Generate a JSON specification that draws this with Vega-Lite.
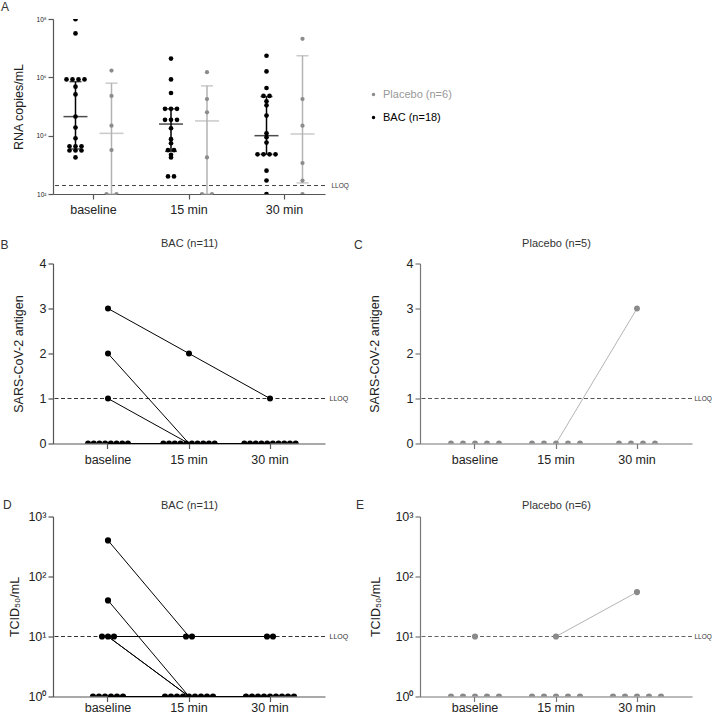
{
  "$schema": "https://vega.github.io/schema/vega-lite/v6.json",
  "background": "white",
  "padding": {"left": 0, "top": 1, "right": 0, "bottom": 0},
  "config": {
    "font": "Liberation Sans",
    "view": {"stroke": null},
    "axis": {"grid": false, "domainColor": "#555555", "tickColor": "#555555", "domainWidth": 1.2, "tickWidth": 1.2, "tickSize": 5, "labelColor": "#222222", "titleColor": "#222222", "labelFontSize": 12.5, "titleFontSize": 12.5, "titleFontWeight": "normal", "labelFont": "Liberation Sans", "titleFont": "Liberation Sans"},
    "title": {"fontSize": 12, "fontWeight": "normal", "color": "#333333", "anchor": "start", "frame": "bounds", "font": "Liberation Sans"},
    "legend": {"labelFont": "Liberation Sans"}
  },
  "datasets": {
    "rna": [
      {"time": "baseline", "group": "BAC", "copies": 98000000},
      {"time": "baseline", "group": "BAC", "copies": 32000000},
      {"time": "baseline", "group": "BAC", "copies": 850000},
      {"time": "baseline", "group": "BAC", "copies": 850000},
      {"time": "baseline", "group": "BAC", "copies": 850000},
      {"time": "baseline", "group": "BAC", "copies": 850000},
      {"time": "baseline", "group": "BAC", "copies": 480000},
      {"time": "baseline", "group": "BAC", "copies": 260000},
      {"time": "baseline", "group": "BAC", "copies": 45000},
      {"time": "baseline", "group": "BAC", "copies": 19000},
      {"time": "baseline", "group": "BAC", "copies": 8100},
      {"time": "baseline", "group": "BAC", "copies": 4300},
      {"time": "baseline", "group": "BAC", "copies": 4300},
      {"time": "baseline", "group": "BAC", "copies": 4300},
      {"time": "baseline", "group": "BAC", "copies": 3100},
      {"time": "baseline", "group": "BAC", "copies": 3100},
      {"time": "baseline", "group": "BAC", "copies": 3100},
      {"time": "baseline", "group": "BAC", "copies": 1800},
      {"time": "baseline", "group": "Placebo", "copies": 1700000},
      {"time": "baseline", "group": "Placebo", "copies": 230000},
      {"time": "baseline", "group": "Placebo", "copies": 22000},
      {"time": "baseline", "group": "Placebo", "copies": 3200},
      {"time": "baseline", "group": "Placebo", "copies": 100},
      {"time": "baseline", "group": "Placebo", "copies": 100},
      {"time": "15 min", "group": "BAC", "copies": 4400000},
      {"time": "15 min", "group": "BAC", "copies": 850000},
      {"time": "15 min", "group": "BAC", "copies": 290000},
      {"time": "15 min", "group": "BAC", "copies": 83000},
      {"time": "15 min", "group": "BAC", "copies": 83000},
      {"time": "15 min", "group": "BAC", "copies": 83000},
      {"time": "15 min", "group": "BAC", "copies": 35000},
      {"time": "15 min", "group": "BAC", "copies": 35000},
      {"time": "15 min", "group": "BAC", "copies": 35000},
      {"time": "15 min", "group": "BAC", "copies": 18000},
      {"time": "15 min", "group": "BAC", "copies": 7600},
      {"time": "15 min", "group": "BAC", "copies": 5500},
      {"time": "15 min", "group": "BAC", "copies": 3200},
      {"time": "15 min", "group": "BAC", "copies": 3200},
      {"time": "15 min", "group": "BAC", "copies": 2200},
      {"time": "15 min", "group": "BAC", "copies": 1800},
      {"time": "15 min", "group": "BAC", "copies": 400},
      {"time": "15 min", "group": "BAC", "copies": 400},
      {"time": "15 min", "group": "Placebo", "copies": 1500000},
      {"time": "15 min", "group": "Placebo", "copies": 180000},
      {"time": "15 min", "group": "Placebo", "copies": 63000},
      {"time": "15 min", "group": "Placebo", "copies": 1800},
      {"time": "15 min", "group": "Placebo", "copies": 100},
      {"time": "15 min", "group": "Placebo", "copies": 100},
      {"time": "30 min", "group": "BAC", "copies": 5500000},
      {"time": "30 min", "group": "BAC", "copies": 1600000},
      {"time": "30 min", "group": "BAC", "copies": 430000},
      {"time": "30 min", "group": "BAC", "copies": 230000},
      {"time": "30 min", "group": "BAC", "copies": 230000},
      {"time": "30 min", "group": "BAC", "copies": 150000},
      {"time": "30 min", "group": "BAC", "copies": 110000},
      {"time": "30 min", "group": "BAC", "copies": 49000},
      {"time": "30 min", "group": "BAC", "copies": 12000},
      {"time": "30 min", "group": "BAC", "copies": 8900},
      {"time": "30 min", "group": "BAC", "copies": 5800},
      {"time": "30 min", "group": "BAC", "copies": 2300},
      {"time": "30 min", "group": "BAC", "copies": 2300},
      {"time": "30 min", "group": "BAC", "copies": 2300},
      {"time": "30 min", "group": "BAC", "copies": 2300},
      {"time": "30 min", "group": "BAC", "copies": 630},
      {"time": "30 min", "group": "BAC", "copies": 290},
      {"time": "30 min", "group": "BAC", "copies": 100},
      {"time": "30 min", "group": "Placebo", "copies": 21000000},
      {"time": "30 min", "group": "Placebo", "copies": 180000},
      {"time": "30 min", "group": "Placebo", "copies": 22000},
      {"time": "30 min", "group": "Placebo", "copies": 1150},
      {"time": "30 min", "group": "Placebo", "copies": 290},
      {"time": "30 min", "group": "Placebo", "copies": 100}
    ],
    "rna_summary": [
      {"time": "baseline", "group": "BAC", "median": 45000, "lo": 3500, "hi": 710000},
      {"time": "15 min", "group": "BAC", "median": 25000, "lo": 2900, "hi": 83000},
      {"time": "30 min", "group": "BAC", "median": 10000, "lo": 2300, "hi": 220000},
      {"time": "baseline", "group": "Placebo", "median": 12000, "lo": 100, "hi": 630000},
      {"time": "15 min", "group": "Placebo", "median": 32000, "lo": 100, "hi": 510000},
      {"time": "30 min", "group": "Placebo", "median": 11500, "lo": 240, "hi": 5500000}
    ],
    "lloq": [
      {"assay": "rna", "value": 195},
      {"assay": "antigen", "value": 1},
      {"assay": "tcid", "value": 10}
    ],
    "antigen": [
      {"arm": "BAC", "subject": "b1", "time": "baseline", "value": 3},
      {"arm": "BAC", "subject": "b1", "time": "15 min", "value": 2},
      {"arm": "BAC", "subject": "b1", "time": "30 min", "value": 1},
      {"arm": "BAC", "subject": "b2", "time": "baseline", "value": 2},
      {"arm": "BAC", "subject": "b2", "time": "15 min", "value": 0},
      {"arm": "BAC", "subject": "b2", "time": "30 min", "value": 0},
      {"arm": "BAC", "subject": "b3", "time": "baseline", "value": 1},
      {"arm": "BAC", "subject": "b3", "time": "15 min", "value": 0},
      {"arm": "BAC", "subject": "b3", "time": "30 min", "value": 0},
      {"arm": "BAC", "subject": "b4", "time": "baseline", "value": 0},
      {"arm": "BAC", "subject": "b4", "time": "15 min", "value": 0},
      {"arm": "BAC", "subject": "b4", "time": "30 min", "value": 0},
      {"arm": "BAC", "subject": "b5", "time": "baseline", "value": 0},
      {"arm": "BAC", "subject": "b5", "time": "15 min", "value": 0},
      {"arm": "BAC", "subject": "b5", "time": "30 min", "value": 0},
      {"arm": "BAC", "subject": "b6", "time": "baseline", "value": 0},
      {"arm": "BAC", "subject": "b6", "time": "15 min", "value": 0},
      {"arm": "BAC", "subject": "b6", "time": "30 min", "value": 0},
      {"arm": "BAC", "subject": "b7", "time": "baseline", "value": 0},
      {"arm": "BAC", "subject": "b7", "time": "15 min", "value": 0},
      {"arm": "BAC", "subject": "b7", "time": "30 min", "value": 0},
      {"arm": "BAC", "subject": "b8", "time": "baseline", "value": 0},
      {"arm": "BAC", "subject": "b8", "time": "15 min", "value": 0},
      {"arm": "BAC", "subject": "b8", "time": "30 min", "value": 0},
      {"arm": "BAC", "subject": "b9", "time": "baseline", "value": 0},
      {"arm": "BAC", "subject": "b9", "time": "15 min", "value": 0},
      {"arm": "BAC", "subject": "b9", "time": "30 min", "value": 0},
      {"arm": "BAC", "subject": "b10", "time": "baseline", "value": 0},
      {"arm": "BAC", "subject": "b10", "time": "15 min", "value": 0},
      {"arm": "BAC", "subject": "b10", "time": "30 min", "value": 0},
      {"arm": "BAC", "subject": "b11", "time": "baseline", "value": 0},
      {"arm": "BAC", "subject": "b11", "time": "15 min", "value": 0},
      {"arm": "BAC", "subject": "b11", "time": "30 min", "value": 0},
      {"arm": "Placebo", "subject": "c1", "time": "baseline", "value": 0},
      {"arm": "Placebo", "subject": "c1", "time": "15 min", "value": 0},
      {"arm": "Placebo", "subject": "c1", "time": "30 min", "value": 3},
      {"arm": "Placebo", "subject": "c2", "time": "baseline", "value": 0},
      {"arm": "Placebo", "subject": "c2", "time": "15 min", "value": 0},
      {"arm": "Placebo", "subject": "c2", "time": "30 min", "value": 0},
      {"arm": "Placebo", "subject": "c3", "time": "baseline", "value": 0},
      {"arm": "Placebo", "subject": "c3", "time": "15 min", "value": 0},
      {"arm": "Placebo", "subject": "c3", "time": "30 min", "value": 0},
      {"arm": "Placebo", "subject": "c4", "time": "baseline", "value": 0},
      {"arm": "Placebo", "subject": "c4", "time": "15 min", "value": 0},
      {"arm": "Placebo", "subject": "c4", "time": "30 min", "value": 0},
      {"arm": "Placebo", "subject": "c5", "time": "baseline", "value": 0},
      {"arm": "Placebo", "subject": "c5", "time": "15 min", "value": 0},
      {"arm": "Placebo", "subject": "c5", "time": "30 min", "value": 0}
    ],
    "tcid": [
      {"arm": "BAC", "subject": "d1", "time": "baseline", "titer": 400},
      {"arm": "BAC", "subject": "d1", "time": "15 min", "titer": 10},
      {"arm": "BAC", "subject": "d1", "time": "30 min", "titer": 10},
      {"arm": "BAC", "subject": "d2", "time": "baseline", "titer": 40},
      {"arm": "BAC", "subject": "d2", "time": "15 min", "titer": 1},
      {"arm": "BAC", "subject": "d2", "time": "30 min", "titer": 1},
      {"arm": "BAC", "subject": "d3", "time": "baseline", "titer": 10},
      {"arm": "BAC", "subject": "d3", "time": "15 min", "titer": 1},
      {"arm": "BAC", "subject": "d3", "time": "30 min", "titer": 1},
      {"arm": "BAC", "subject": "d4", "time": "baseline", "titer": 10},
      {"arm": "BAC", "subject": "d4", "time": "15 min", "titer": 1},
      {"arm": "BAC", "subject": "d4", "time": "30 min", "titer": 1},
      {"arm": "BAC", "subject": "d5", "time": "baseline", "titer": 10},
      {"arm": "BAC", "subject": "d5", "time": "15 min", "titer": 10},
      {"arm": "BAC", "subject": "d5", "time": "30 min", "titer": 10},
      {"arm": "BAC", "subject": "d6", "time": "baseline", "titer": 1},
      {"arm": "BAC", "subject": "d6", "time": "15 min", "titer": 1},
      {"arm": "BAC", "subject": "d6", "time": "30 min", "titer": 1},
      {"arm": "BAC", "subject": "d7", "time": "baseline", "titer": 1},
      {"arm": "BAC", "subject": "d7", "time": "15 min", "titer": 1},
      {"arm": "BAC", "subject": "d7", "time": "30 min", "titer": 1},
      {"arm": "BAC", "subject": "d8", "time": "baseline", "titer": 1},
      {"arm": "BAC", "subject": "d8", "time": "15 min", "titer": 1},
      {"arm": "BAC", "subject": "d8", "time": "30 min", "titer": 1},
      {"arm": "BAC", "subject": "d9", "time": "baseline", "titer": 1},
      {"arm": "BAC", "subject": "d9", "time": "15 min", "titer": 1},
      {"arm": "BAC", "subject": "d9", "time": "30 min", "titer": 1},
      {"arm": "BAC", "subject": "d10", "time": "baseline", "titer": 1},
      {"arm": "BAC", "subject": "d10", "time": "15 min", "titer": 1},
      {"arm": "BAC", "subject": "d10", "time": "30 min", "titer": 1},
      {"arm": "BAC", "subject": "d11", "time": "baseline", "titer": 1},
      {"arm": "BAC", "subject": "d11", "time": "15 min", "titer": 1},
      {"arm": "BAC", "subject": "d11", "time": "30 min", "titer": 1},
      {"arm": "Placebo", "subject": "ea", "time": "15 min", "titer": 10},
      {"arm": "Placebo", "subject": "ea", "time": "30 min", "titer": 55},
      {"arm": "Placebo", "subject": "eb", "time": "baseline", "titer": 10},
      {"arm": "Placebo", "subject": "e1", "time": "baseline", "titer": 1},
      {"arm": "Placebo", "subject": "e1", "time": "15 min", "titer": 1},
      {"arm": "Placebo", "subject": "e1", "time": "30 min", "titer": 1},
      {"arm": "Placebo", "subject": "e2", "time": "baseline", "titer": 1},
      {"arm": "Placebo", "subject": "e2", "time": "15 min", "titer": 1},
      {"arm": "Placebo", "subject": "e2", "time": "30 min", "titer": 1},
      {"arm": "Placebo", "subject": "e3", "time": "baseline", "titer": 1},
      {"arm": "Placebo", "subject": "e3", "time": "15 min", "titer": 1},
      {"arm": "Placebo", "subject": "e3", "time": "30 min", "titer": 1},
      {"arm": "Placebo", "subject": "e4", "time": "baseline", "titer": 1},
      {"arm": "Placebo", "subject": "e4", "time": "15 min", "titer": 1},
      {"arm": "Placebo", "subject": "e4", "time": "30 min", "titer": 1},
      {"arm": "Placebo", "subject": "e5", "time": "baseline", "titer": 1},
      {"arm": "Placebo", "subject": "e5", "time": "15 min", "titer": 1},
      {"arm": "Placebo", "subject": "e5", "time": "30 min", "titer": 1}
    ]
  },
  "spacing": 21.5,
  "resolve": {"scale": {"xOffset": "independent", "x": "independent", "y": "independent"}},
  "vconcat": [
    {
      "width": 272,
      "height": 175,
      "title": {"text": "A", "dx": -12, "dy": 2},
      "layer": [
        {
          "data": {"name": "lloq"},
          "transform": [{"filter": "datum.assay == 'rna'"}],
          "mark": {"type": "rule", "strokeDash": [4, 3], "color": "#444444", "strokeWidth": 1},
          "encoding": {
            "y": {"field": "value", "type": "quantitative", "scale": {"type": "log", "domain": [100, 100000000], "nice": false}, "axis": {"orient": "right", "values": [195], "labelExpr": "'LLOQ'", "domain": false, "ticks": false, "title": null, "labelFontSize": 6.5, "labelPadding": 6, "labelColor": "#333333"}}
          }
        },
        {
          "layer": [
            {
              "data": {"name": "rna"},
              "transform": [
                {"filter": "datum.group == 'BAC'"},
                {"window": [{"op": "count", "as": "one"}], "frame": [0, 0], "ignorePeers": true},
                {"stack": "one", "groupby": ["time", "copies"], "offset": "center", "as": ["s0", "s1"]}
              ],
              "mark": {"type": "point", "filled": true, "opacity": 1, "size": 22, "clip": true},
              "encoding": {
                "x": {"field": "time", "type": "ordinal", "scale": {"type": "band", "domain": ["baseline", "15 min", "30 min"], "paddingInner": 0.152, "paddingOuter": 0}, "axis": {"title": null, "labelAngle": 0, "labelPadding": 4, "orient": "bottom"}},
                "xOffset": {"field": "s0", "type": "quantitative", "scale": {"domain": [-2.25, 11.25]}},
                "y": {"field": "copies", "type": "quantitative", "scale": {"type": "log", "domain": [100, 100000000], "nice": false}, "axis": {"values": [100, 10000, 1000000, 100000000], "labelFontSize": 6.5, "labelPadding": 2, "labelExpr": "'10' + ['⁰','¹','²','³','⁴','⁵','⁶','⁷','⁸'][round(log(datum.value)/LN10)]", "title": "RNA copies/mL", "titlePadding": 10}},
                "color": {"field": "group", "type": "nominal", "scale": {"domain": ["Placebo", "BAC"], "range": ["#8c8c8c", "#000000"]}, "legend": {"orient": "none", "legendX": 315, "legendY": 70, "title": null, "symbolType": "circle", "symbolSize": 12, "labelFontSize": 11, "labelOffset": 4, "rowPadding": 11, "padding": 0, "labelExpr": "datum.value == 'BAC' ? 'BAC (n=18)' : 'Placebo (n=6)'", "labelColor": {"expr": "datum.value == 'BAC' ? '#000000' : '#999999'"}}}
              }
            },
            {
              "data": {"name": "rna_summary"},
              "transform": [{"filter": "datum.group == 'BAC'"}],
              "mark": {"type": "rule", "color": "#000000", "strokeWidth": 1.5},
              "encoding": {
                "x": {"field": "time", "type": "ordinal"},
                "xOffset": {"datum": 1.5, "type": "quantitative"},
                "y": {"field": "lo", "type": "quantitative"},
                "y2": {"field": "hi"}
              }
            },
            {
              "data": {"name": "rna_summary"},
              "transform": [{"filter": "datum.group == 'BAC'"}],
              "mark": {"type": "tick", "color": "#000000", "size": 24, "thickness": 1.5},
              "encoding": {
                "x": {"field": "time", "type": "ordinal"},
                "xOffset": {"datum": 1.5, "type": "quantitative"},
                "y": {"field": "median", "type": "quantitative"}
              }
            },
            {
              "data": {"name": "rna_summary"},
              "transform": [{"filter": "datum.group == 'BAC'"}],
              "mark": {"type": "tick", "color": "#000000", "size": 12, "thickness": 1.5},
              "encoding": {
                "x": {"field": "time", "type": "ordinal"},
                "xOffset": {"datum": 1.5, "type": "quantitative"},
                "y": {"field": "lo", "type": "quantitative"}
              }
            },
            {
              "data": {"name": "rna_summary"},
              "transform": [{"filter": "datum.group == 'BAC'"}],
              "mark": {"type": "tick", "color": "#000000", "size": 12, "thickness": 1.5},
              "encoding": {
                "x": {"field": "time", "type": "ordinal"},
                "xOffset": {"datum": 1.5, "type": "quantitative"},
                "y": {"field": "hi", "type": "quantitative"}
              }
            }
          ]
        },
        {
          "layer": [
            {
              "data": {"name": "rna_summary"},
              "transform": [{"filter": "datum.group == 'Placebo'"}],
              "mark": {"type": "rule", "color": "#b3b3b3", "strokeWidth": 1.5},
              "encoding": {
                "x": {"field": "time", "type": "ordinal"},
                "xOffset": {"datum": 0.5, "type": "quantitative", "scale": {"domain": [-5.35, 2.75]}},
                "y": {"field": "lo", "type": "quantitative", "axis": null},
                "y2": {"field": "hi"}
              }
            },
            {
              "data": {"name": "rna_summary"},
              "transform": [{"filter": "datum.group == 'Placebo'"}],
              "mark": {"type": "tick", "color": "#b3b3b3", "size": 24, "thickness": 1.5},
              "encoding": {
                "x": {"field": "time", "type": "ordinal"},
                "xOffset": {"datum": 0.5, "type": "quantitative"},
                "y": {"field": "median", "type": "quantitative", "axis": null}
              }
            },
            {
              "data": {"name": "rna_summary"},
              "transform": [{"filter": "datum.group == 'Placebo'"}],
              "mark": {"type": "tick", "color": "#b3b3b3", "size": 12, "thickness": 1.5},
              "encoding": {
                "x": {"field": "time", "type": "ordinal"},
                "xOffset": {"datum": 0.5, "type": "quantitative"},
                "y": {"field": "lo", "type": "quantitative", "axis": null}
              }
            },
            {
              "data": {"name": "rna_summary"},
              "transform": [{"filter": "datum.group == 'Placebo'"}],
              "mark": {"type": "tick", "color": "#b3b3b3", "size": 12, "thickness": 1.5},
              "encoding": {
                "x": {"field": "time", "type": "ordinal"},
                "xOffset": {"datum": 0.5, "type": "quantitative"},
                "y": {"field": "hi", "type": "quantitative", "axis": null}
              }
            },
            {
              "data": {"name": "rna"},
              "transform": [
                {"filter": "datum.group == 'Placebo'"},
                {"window": [{"op": "count", "as": "one"}], "frame": [0, 0], "ignorePeers": true},
                {"stack": "one", "groupby": ["time", "copies"], "offset": "center", "as": ["s0", "s1"]}
              ],
              "mark": {"type": "point", "filled": true, "opacity": 1, "size": 18, "clip": true},
              "encoding": {
                "x": {"field": "time", "type": "ordinal"},
                "xOffset": {"field": "s0", "type": "quantitative"},
                "y": {"field": "copies", "type": "quantitative", "axis": null},
                "color": {"field": "group", "type": "nominal"}
              }
            }
          ]
        }
      ],
      "resolve": {"scale": {"xOffset": "independent"}, "axis": {"y": "independent"}}
    },
    {
      "spacing": 32,
      "resolve": {"scale": {"xOffset": "independent", "x": "independent", "y": "independent"}},
      "vconcat": [
        {
          "spacing": 95,
          "bounds": "flush",
          "resolve": {"scale": {"xOffset": "independent", "x": "independent", "y": "independent"}},
          "hconcat": [
            {
              "width": 272,
              "height": 180,
              "title": {"text": "B", "dx": -12, "dy": 18},
              "layer": [
                {
                  "data": {"name": "lloq"},
                  "transform": [{"filter": "datum.assay == 'antigen'"}],
                  "mark": {"type": "rule", "strokeDash": [4, 2.5], "color": "#333333", "strokeWidth": 1},
                  "encoding": {"y": {"field": "value", "type": "quantitative", "scale": {"domain": [0, 4], "nice": false}, "axis": {"orient": "right", "values": [1], "labelExpr": "'LLOQ'", "domain": false, "ticks": false, "title": null, "labelFontSize": 7, "labelPadding": 4, "labelColor": "#333333"}}}
                },
                {
                  "data": {"name": "antigen"},
                  "transform": [{"filter": "datum.arm == 'BAC'"}],
                  "mark": {"type": "line", "color": "#000000", "strokeWidth": 1},
                  "encoding": {
                    "x": {"field": "time", "type": "ordinal", "sort": ["baseline", "15 min", "30 min"], "scale": {"type": "band", "domain": ["baseline", "15 min", "30 min"], "paddingInner": 0, "paddingOuter": 0.179}, "axis": {"title": null, "labelAngle": 0, "labelPadding": 5}},
                    "y": {"field": "value", "type": "quantitative", "scale": {"domain": [0, 4], "nice": false}, "axis": {"values": [0, 1, 2, 3, 4], "title": "SARS-CoV-2 antigen", "titlePadding": 13.5, "labelPadding": 2}},
                    "detail": {"field": "subject", "type": "nominal"}
                  }
                },
                {
                  "data": {"name": "antigen"},
                  "transform": [
                    {"filter": "datum.arm == 'BAC'"},
                    {"window": [{"op": "count", "as": "one"}], "frame": [0, 0], "ignorePeers": true},
                    {"stack": "one", "groupby": ["time", "value"], "offset": "center", "as": ["s0", "s1"]}
                  ],
                  "mark": {"type": "point", "filled": true, "opacity": 1, "color": "#000000", "size": 36, "clip": true},
                  "encoding": {
                    "x": {"field": "time", "type": "ordinal", "axis": {"orient": "top", "labels": false, "ticks": false, "domain": false, "title": "BAC (n=11)", "titleFontSize": 11, "titleColor": "#333333", "titlePadding": 15}},
                    "xOffset": {"field": "s0", "type": "quantitative", "scale": {"domain": [-2.6, 11.6]}},
                    "y": {"field": "value", "type": "quantitative", "axis": null}
                  }
                }
              ],
              "resolve": {"axis": {"x": "independent", "y": "independent"}}
            },
            {
              "width": 272,
              "height": 180,
              "title": {"text": "C", "dx": -14, "dy": 18},
              "layer": [
                {
                  "data": {"name": "lloq"},
                  "transform": [{"filter": "datum.assay == 'antigen'"}],
                  "mark": {"type": "rule", "strokeDash": [4, 2.5], "color": "#555555", "strokeWidth": 1},
                  "encoding": {"y": {"field": "value", "type": "quantitative", "scale": {"domain": [0, 4], "nice": false}, "axis": {"orient": "right", "values": [1], "labelExpr": "'LLOQ'", "domain": false, "ticks": false, "title": null, "labelFontSize": 6.5, "labelPadding": 2, "labelColor": "#333333"}}}
                },
                {
                  "data": {"name": "antigen"},
                  "transform": [{"filter": "datum.arm == 'Placebo'"}],
                  "mark": {"type": "line", "color": "#b4b4b4", "strokeWidth": 1},
                  "encoding": {
                    "x": {"field": "time", "type": "ordinal", "sort": ["baseline", "15 min", "30 min"], "scale": {"type": "band", "domain": ["baseline", "15 min", "30 min"], "paddingInner": 0, "paddingOuter": 0.179}, "axis": {"title": null, "labelAngle": 0, "labelPadding": 5, "domainColor": "#777777", "tickColor": "#777777"}},
                    "y": {"field": "value", "type": "quantitative", "scale": {"domain": [0, 4], "nice": false}, "axis": {"values": [0, 1, 2, 3, 4], "title": "SARS-CoV-2 antigen", "titlePadding": 25, "labelPadding": 2, "domainColor": "#777777", "tickColor": "#777777"}},
                    "detail": {"field": "subject", "type": "nominal"}
                  }
                },
                {
                  "data": {"name": "antigen"},
                  "transform": [
                    {"filter": "datum.arm == 'Placebo'"},
                    {"window": [{"op": "count", "as": "one"}], "frame": [0, 0], "ignorePeers": true},
                    {"stack": "one", "groupby": ["time", "value"], "offset": "center", "as": ["s0", "s1"]}
                  ],
                  "mark": {"type": "point", "filled": true, "opacity": 1, "color": "#8a8a8a", "size": 34, "clip": true},
                  "encoding": {
                    "x": {"field": "time", "type": "ordinal", "axis": {"orient": "top", "labels": false, "ticks": false, "domain": false, "title": "Placebo (n=5)", "titleFontSize": 11, "titleColor": "#333333", "titlePadding": 15}},
                    "xOffset": {"field": "s0", "type": "quantitative", "scale": {"domain": [-1.375, 5.375]}},
                    "y": {"field": "value", "type": "quantitative", "axis": null}
                  }
                }
              ],
              "resolve": {"axis": {"x": "independent", "y": "independent"}}
            }
          ]
        },
        {
          "spacing": 95,
          "bounds": "flush",
          "resolve": {"scale": {"xOffset": "independent", "x": "independent", "y": "independent"}},
          "hconcat": [
            {
              "width": 272,
              "height": 180,
              "title": {"text": "D", "dx": -6, "dy": 16},
              "layer": [
                {
                  "data": {"name": "lloq"},
                  "transform": [{"filter": "datum.assay == 'tcid'"}],
                  "mark": {"type": "rule", "strokeDash": [4, 2.5], "color": "#333333", "strokeWidth": 1},
                  "encoding": {"y": {"field": "value", "type": "quantitative", "scale": {"type": "log", "domain": [1, 1000], "nice": false}, "axis": {"orient": "right", "values": [10], "labelExpr": "'LLOQ'", "domain": false, "ticks": false, "title": null, "labelFontSize": 7, "labelPadding": 4, "labelColor": "#333333"}}}
                },
                {
                  "data": {"name": "tcid"},
                  "transform": [{"filter": "datum.arm == 'BAC'"}],
                  "mark": {"type": "line", "color": "#000000", "strokeWidth": 1},
                  "encoding": {
                    "x": {"field": "time", "type": "ordinal", "sort": ["baseline", "15 min", "30 min"], "scale": {"type": "band", "domain": ["baseline", "15 min", "30 min"], "paddingInner": 0, "paddingOuter": 0.179}, "axis": {"title": null, "labelAngle": 0, "labelPadding": 0}},
                    "y": {"field": "titer", "type": "quantitative", "scale": {"type": "log", "domain": [1, 1000], "nice": false}, "axis": {"values": [1, 10, 100, 1000], "labelExpr": "'10' + ['⁰','¹','²','³'][round(log(datum.value)/LN10)]", "title": "TCID₅₀/mL", "titlePadding": 6, "labelPadding": 2}},
                    "detail": {"field": "subject", "type": "nominal"}
                  }
                },
                {
                  "data": {"name": "tcid"},
                  "transform": [
                    {"filter": "datum.arm == 'BAC'"},
                    {"window": [{"op": "count", "as": "one"}], "frame": [0, 0], "ignorePeers": true},
                    {"stack": "one", "groupby": ["time", "titer"], "offset": "center", "as": ["s0", "s1"]}
                  ],
                  "mark": {"type": "point", "filled": true, "opacity": 1, "color": "#000000", "size": 38, "clip": true},
                  "encoding": {
                    "x": {"field": "time", "type": "ordinal", "axis": {"orient": "top", "labels": false, "ticks": false, "domain": false, "title": "BAC (n=11)", "titleFontSize": 11, "titleColor": "#333333", "titlePadding": 6}},
                    "xOffset": {"field": "s0", "type": "quantitative", "scale": {"domain": [-2.75, 10.75]}},
                    "y": {"field": "titer", "type": "quantitative", "axis": null}
                  }
                }
              ],
              "resolve": {"axis": {"x": "independent", "y": "independent"}}
            },
            {
              "width": 272,
              "height": 180,
              "title": {"text": "E", "dx": -14, "dy": 16},
              "layer": [
                {
                  "data": {"name": "lloq"},
                  "transform": [{"filter": "datum.assay == 'tcid'"}],
                  "mark": {"type": "rule", "strokeDash": [4, 2.5], "color": "#666666", "strokeWidth": 1.2},
                  "encoding": {"y": {"field": "value", "type": "quantitative", "scale": {"type": "log", "domain": [1, 1000], "nice": false}, "axis": {"orient": "right", "values": [10], "labelExpr": "'LLOQ'", "domain": false, "ticks": false, "title": null, "labelFontSize": 6.5, "labelPadding": 2, "labelColor": "#333333"}}}
                },
                {
                  "data": {"name": "tcid"},
                  "transform": [{"filter": "datum.arm == 'Placebo'"}],
                  "mark": {"type": "line", "color": "#b4b4b4", "strokeWidth": 1},
                  "encoding": {
                    "x": {"field": "time", "type": "ordinal", "sort": ["baseline", "15 min", "30 min"], "scale": {"type": "band", "domain": ["baseline", "15 min", "30 min"], "paddingInner": 0, "paddingOuter": 0.179}, "axis": {"title": null, "labelAngle": 0, "labelPadding": 0, "domainColor": "#777777", "tickColor": "#777777"}},
                    "y": {"field": "titer", "type": "quantitative", "scale": {"type": "log", "domain": [1, 1000], "nice": false}, "axis": {"values": [1, 10, 100, 1000], "labelExpr": "'10' + ['⁰','¹','²','³'][round(log(datum.value)/LN10)]", "title": "TCID₅₀/mL", "titlePadding": 12, "labelPadding": 2, "domainColor": "#777777", "tickColor": "#777777"}},
                    "detail": {"field": "subject", "type": "nominal"}
                  }
                },
                {
                  "data": {"name": "tcid"},
                  "transform": [
                    {"filter": "datum.arm == 'Placebo'"},
                    {"window": [{"op": "count", "as": "one"}], "frame": [0, 0], "ignorePeers": true},
                    {"stack": "one", "groupby": ["time", "titer"], "offset": "center", "as": ["s0", "s1"]}
                  ],
                  "mark": {"type": "point", "filled": true, "opacity": 1, "color": "#8a8a8a", "size": 38, "clip": true},
                  "encoding": {
                    "x": {"field": "time", "type": "ordinal", "axis": {"orient": "top", "labels": false, "ticks": false, "domain": false, "title": "Placebo (n=6)", "titleFontSize": 11, "titleColor": "#333333", "titlePadding": 6}},
                    "xOffset": {"field": "s0", "type": "quantitative", "scale": {"domain": [-1.375, 5.375]}},
                    "y": {"field": "titer", "type": "quantitative", "axis": null}
                  }
                }
              ],
              "resolve": {"axis": {"x": "independent", "y": "independent"}}
            }
          ]
        }
      ]
    }
  ]
}
